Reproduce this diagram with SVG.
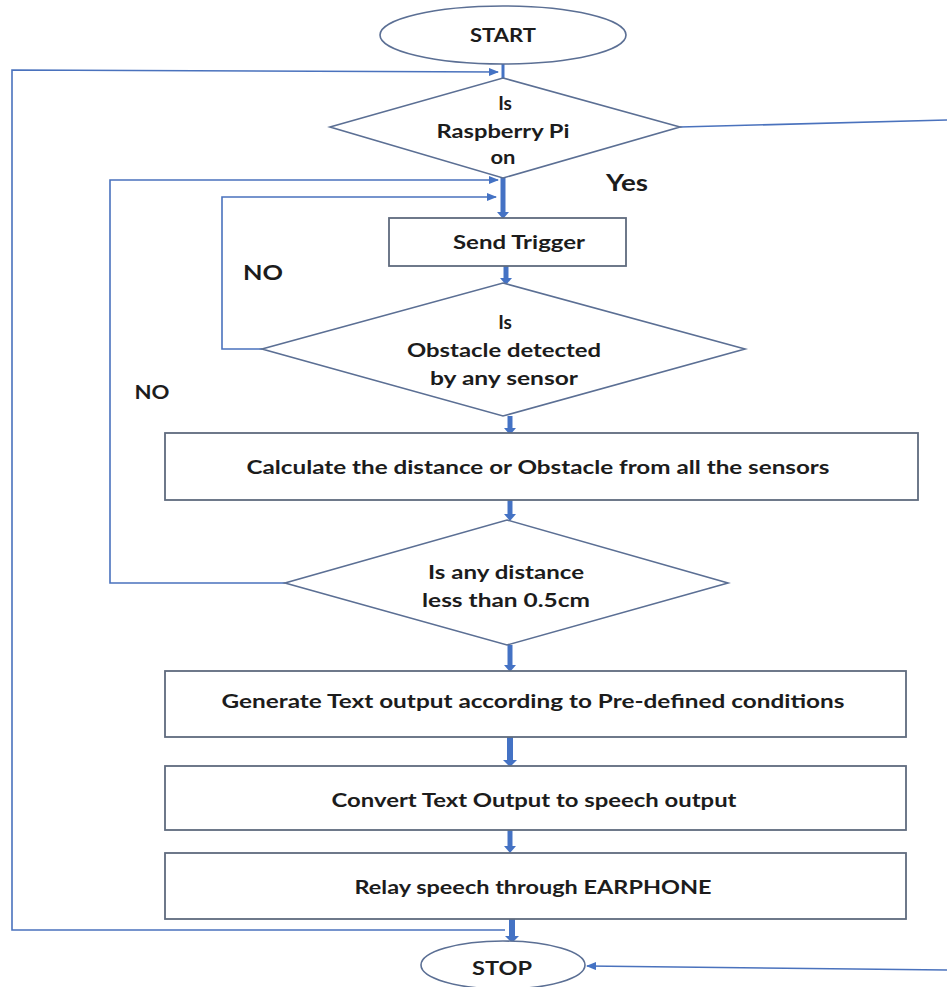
<svg xmlns="http://www.w3.org/2000/svg" width="947" height="987" viewBox="0 0 947 987">
<defs>
<marker id="ah" markerWidth="10" markerHeight="8" refX="9" refY="4" orient="auto" markerUnits="userSpaceOnUse">
<path d="M0,0 L10,4 L0,8 Z" fill="#4472C4"/>
</marker>
<style>
.sh{fill:#fff;stroke:#5b6f94;stroke-width:1.6}
.rc{fill:#fff;stroke:#5f6b7e;stroke-width:1.8}
.t{font-family:Lato,"Liberation Sans",sans-serif;font-weight:bold;font-size:19px;fill:#1c1c1c;text-anchor:middle}
.thin{fill:none;stroke:#4a72bd;stroke-width:1.6}
.thick{fill:none;stroke:#4472C4;stroke-width:5}
.hd{fill:#4472C4}
</style>
</defs>
<rect width="947" height="987" fill="#fff"/>
<g id="connectors">
<path class="thin" d="M680,127 L947,120"/>
<path class="thin" d="M947,970 L587,966" marker-end="url(#ah)"/>
<path class="thin" d="M505,930 L12,930 L12,70 L498,72" marker-end="url(#ah)"/>
<path class="thin" d="M285,583 L110,583 L110,180 L498,180" marker-end="url(#ah)"/>
<path class="thin" d="M262,349 L222,349 L222,197 L496,197" marker-end="url(#ah)"/>
<path class="thick" d="M503,64 L503,85" style="stroke-width:3"/>
<path class="thick" d="M503,178 L503,214"/>
<path class="hd" d="M497,212 L503,219 L509,212 Z"/>
<path class="thick" d="M506,266 L506,280"/>
<path class="hd" d="M500,278 L506,285 L512,278 Z"/>
<path class="thick" d="M510,416 L510,430"/>
<path class="hd" d="M504,428 L510,435 L516,428 Z"/>
<path class="thick" d="M510,500 L510,516"/>
<path class="hd" d="M504,514 L510,521 L516,514 Z"/>
<path class="thick" d="M510,645 L510,667"/>
<path class="hd" d="M504,665 L510,672 L516,665 Z"/>
<path class="thick" d="M510,737 L510,762" style="stroke-width:6"/>
<path class="hd" d="M503,760 L510,767 L517,760 Z"/>
<path class="thick" d="M510,830 L510,848"/>
<path class="hd" d="M504,846 L510,853 L516,846 Z"/>
<path class="thick" d="M512,919 L512,938" style="stroke-width:6"/>
<path class="hd" d="M505,936 L512,943 L519,936 Z"/>
</g>
<g id="start">
<ellipse class="sh" cx="503" cy="35" rx="123" ry="29"/>
<text class="t" x="503" y="42" textLength="66" lengthAdjust="spacingAndGlyphs">START</text>
</g>
<g id="d1">
<path class="sh" d="M503,78 L680,127 L503,178 L330,127 Z"/>
<text class="t" x="505" y="110">Is</text>
<text class="t" x="503" y="138" textLength="133" lengthAdjust="spacingAndGlyphs">Raspberry Pi</text>
<text class="t" x="503" y="164" textLength="25" lengthAdjust="spacingAndGlyphs">on</text>
</g>
<text class="t" x="627" y="191" style="font-size:23px" textLength="42" lengthAdjust="spacingAndGlyphs">Yes</text>
<g id="send">
<rect class="rc" x="389" y="218" width="237" height="48"/>
<text class="t" x="519" y="249" textLength="132" lengthAdjust="spacingAndGlyphs">Send Trigger</text>
</g>
<text class="t" x="263" y="280" style="font-size:20px" textLength="40" lengthAdjust="spacingAndGlyphs">NO</text>
<g id="d2">
<path class="sh" d="M503,283 L745,349 L503,416 L262,349 Z"/>
<text class="t" x="505" y="329">Is</text>
<text class="t" x="504" y="357" textLength="194" lengthAdjust="spacingAndGlyphs">Obstacle detected</text>
<text class="t" x="504" y="385" textLength="148" lengthAdjust="spacingAndGlyphs">by any sensor</text>
</g>
<text class="t" x="152" y="399" textLength="35" lengthAdjust="spacingAndGlyphs">NO</text>
<g id="calc">
<rect class="rc" x="165" y="433" width="753" height="67"/>
<text class="t" x="538" y="474" textLength="583" lengthAdjust="spacingAndGlyphs">Calculate  the distance or Obstacle from all  the sensors</text>
</g>
<g id="d3">
<path class="sh" d="M507,520 L728,583 L507,645 L285,583 Z"/>
<text class="t" x="506" y="579" textLength="156" lengthAdjust="spacingAndGlyphs">Is any distance</text>
<text class="t" x="506" y="607" textLength="168" lengthAdjust="spacingAndGlyphs">less than 0.5cm</text>
</g>
<g id="gen">
<rect class="rc" x="165" y="671" width="741" height="66"/>
<text class="t" x="533" y="708" textLength="623" lengthAdjust="spacingAndGlyphs">Generate Text output  according  to Pre-defined conditions</text>
</g>
<g id="conv">
<rect class="rc" x="165" y="766" width="741" height="64"/>
<text class="t" x="534" y="807" textLength="405" lengthAdjust="spacingAndGlyphs">Convert Text Output to speech output</text>
</g>
<g id="relay">
<rect class="rc" x="165" y="853" width="741" height="66"/>
<text class="t" x="533" y="894" textLength="357" lengthAdjust="spacingAndGlyphs">Relay speech through  EARPHONE</text>
</g>
<g id="stop">
<ellipse class="sh" cx="503" cy="965" rx="82" ry="24"/>
<text class="t" x="502" y="975" textLength="60" lengthAdjust="spacingAndGlyphs">STOP</text>
</g>
</svg>
